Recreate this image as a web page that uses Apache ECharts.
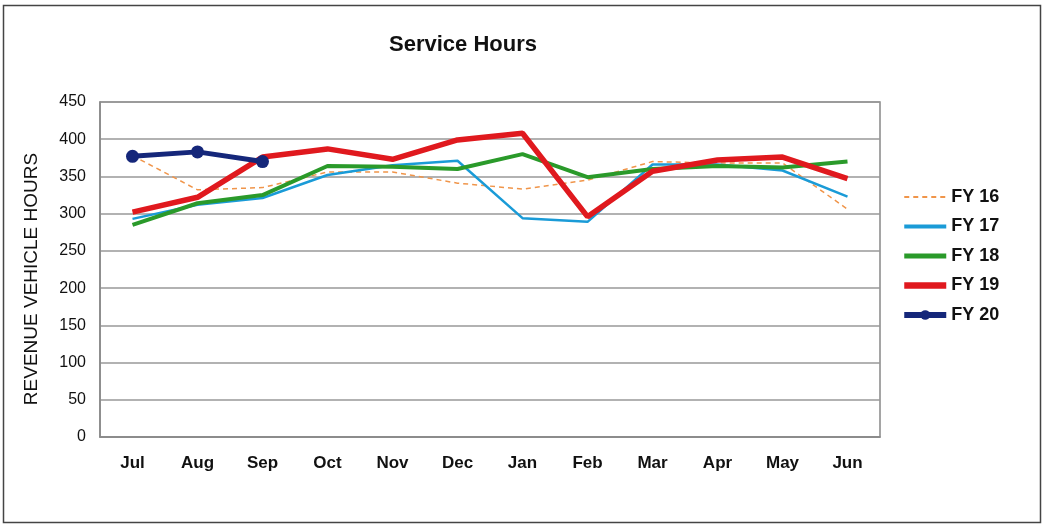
<!DOCTYPE html>
<html>
<head>
<meta charset="utf-8">
<title>Service Hours</title>
<script src="https://cdn.jsdelivr.net/npm/echarts@6/dist/echarts.min.js"></script>
<style>
  html, body { margin: 0; padding: 0; background: #fff; }
  #chart { width: 1044px; height: 527px; }
</style>
</head>
<body>
<div id="chart"></div>
<script>
  // months on the x axis
  const months = ['Jul', 'Aug', 'Sep', 'Oct', 'Nov', 'Dec', 'Jan', 'Feb', 'Mar', 'Apr', 'May', 'Jun']

  // revenue vehicle hours per fiscal year
  const fy16 = [378, 332, 335, 356, 356, 341, 333, 345, 370, 368, 368, 306]
  const fy17 = [293, 312, 321, 352, 365, 371, 294, 289, 366, 366, 358, 323]
  const fy18 = [285, 314, 325, 364, 363, 360, 380, 349, 360, 364, 362, 370]
  const fy19 = [302, 322, 376, 387, 373, 399, 408, 296, 357, 372, 376, 347]
  const fy20 = [377, 383, 370]

  const chart = echarts.init(document.getElementById('chart'))

  const font = 'Liberation Sans, Arial, sans-serif'
  // legend entries of lines without markers: hide the symbol, keep the line
  const noMark = { opacity: 0 }

  const option = {
    animation: false,
    backgroundColor: '#fff',
    textStyle: { fontFamily: font },
    title: {
      text: 'Service Hours',
      left: 458,
      top: 29,
      textAlign: 'center',
      textStyle: { fontSize: 22, fontWeight: 'bold', color: '#111', fontFamily: font }
    },
    graphic: [
      // outer frame of the chart
      {
        type: 'rect',
        shape: { x: 3.5, y: 5.5, width: 1037, height: 517 },
        style: { fill: 'none', stroke: '#444', lineWidth: 1.5 },
        silent: true
      },
      // y axis title
      {
        type: 'text',
        x: 32,
        y: 279,
        rotation: Math.PI / 2,
        style: {
          text: 'REVENUE VEHICLE HOURS',
          font: '19px ' + font,
          fill: '#111',
          align: 'center',
          verticalAlign: 'middle'
        },
        silent: true
      }
    ],
    grid: {
      left: 100,
      right: 164,
      top: 102,
      bottom: 90,
      show: true,
      borderColor: '#888',
      borderWidth: 1.5
    },
    legend: {
      orient: 'vertical',
      left: 896,
      top: 183,
      itemWidth: 42,
      itemHeight: 12,
      itemGap: 11.5,
      textStyle: { fontSize: 18, fontWeight: 'bold', color: '#111', fontFamily: font },
      data: [
        { name: 'FY 16', itemStyle: noMark, lineStyle: { width: 2 } },
        { name: 'FY 17', itemStyle: noMark, lineStyle: { width: 4 } },
        { name: 'FY 18', itemStyle: noMark, lineStyle: { width: 5 } },
        { name: 'FY 19', itemStyle: noMark, lineStyle: { width: 6.5 } },
        { name: 'FY 20', lineStyle: { width: 6 } }
      ]
    },
    xAxis: {
      type: 'category',
      data: months,
      boundaryGap: true,
      axisLine: { show: true, lineStyle: { color: '#888', width: 1.5 } },
      axisTick: { show: false },
      axisLabel: { fontSize: 17, fontWeight: 'bold', color: '#111', margin: 18 }
    },
    yAxis: {
      type: 'value',
      min: 0,
      max: 450,
      interval: 50,
      axisLine: { show: true, lineStyle: { color: '#888', width: 1.5 } },
      axisTick: { show: false },
      axisLabel: { fontSize: 16, color: '#111', margin: 14 },
      splitLine: { lineStyle: { color: '#999', width: 1.5 } }
    },
    series: [
      {
        name: 'FY 16',
        type: 'line',
        data: fy16,
        symbol: 'none',
        color: '#f0954a',
        lineStyle: { width: 1.5, type: [5, 4], color: '#f0954a' }
      },
      {
        name: 'FY 17',
        type: 'line',
        data: fy17,
        symbol: 'none',
        color: '#1a9bd7',
        lineStyle: { width: 2.5, color: '#1a9bd7' }
      },
      {
        name: 'FY 18',
        type: 'line',
        data: fy18,
        symbol: 'none',
        color: '#2a9a2a',
        lineStyle: { width: 4, color: '#2a9a2a' }
      },
      {
        name: 'FY 19',
        type: 'line',
        data: fy19,
        symbol: 'none',
        color: '#e0191e',
        lineStyle: { width: 5.5, color: '#e0191e' }
      },
      {
        name: 'FY 20',
        type: 'line',
        data: fy20,
        symbol: 'circle',
        symbolSize: 13,
        color: '#15277a',
        itemStyle: { color: '#15277a' },
        lineStyle: { width: 5, color: '#15277a' }
      }
    ]
  }

  chart.setOption(option)
</script>
</body>
</html>
